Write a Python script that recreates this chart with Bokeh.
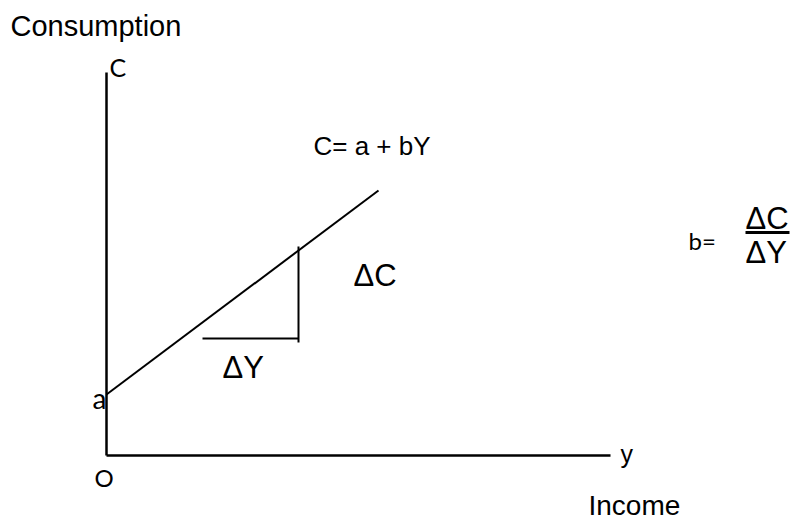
from bokeh.plotting import figure
from bokeh.models import Range1d
from bokeh.core.properties import value
from bokeh.embed import file_html
from bokeh.resources import INLINE

# ---- data (diagram units, origin O at the axes corner) ----
y_axis_x = [0, 0]
y_axis_y = [0, 383]
x_axis_x = [0, 504]
x_axis_y = [0, 0]

# consumption function C = a + bY
cons_x = [0, 272]
cons_y = [61, 265]

# slope triangle
run_x = [96, 192]
run_y = [117, 117]
rise_x = [192, 192]
rise_y = [113, 209]

# fraction bar for b = ΔC / ΔY
frac_x = [639, 683]
frac_y = [223, 223]

# Arial-like labels
arial_text = ["Consumption", "C= a + bY", "ΔC", "ΔY", "ΔC", "ΔY", "y", "Income"]
arial_x = [-96, 207, 247, 116, 639, 639, 514, 482]
arial_y = [430, 310, 180, 88, 237, 203, 2, -50]
arial_size = ["29px", "26px", "31px", "31px", "31px", "31px", "25px", "28px"]

# Calibri-like labels
cal_text = ["C", "a", "O", "b="]
cal_x = [3, -14, -12, 582]
cal_y = [389, 58, -22, 215]
cal_size = ["25px", "28px", "24px", "24px"]

W, H = 792, 520
p = figure(width=W, height=H, output_backend="svg", toolbar_location=None,
           x_range=Range1d(-106, 686), y_range=Range1d(-65, 455),
           min_border=0, outline_line_color=None)
p.axis.visible = False
p.grid.visible = False

p.line(y_axis_x, y_axis_y, line_color="black", line_width=2.5)
p.line(x_axis_x, x_axis_y, line_color="black", line_width=2.5)
p.line(cons_x, cons_y, line_color="black", line_width=2)
p.line(run_x, run_y, line_color="black", line_width=2)
p.line(rise_x, rise_y, line_color="black", line_width=2)
p.line(frac_x, frac_y, line_color="black", line_width=3)

for t, x, y, s in zip(arial_text, arial_x, arial_y, arial_size):
    p.text(x=[x], y=[y], text=[t], text_font=value("Liberation Sans"),
           text_font_size=s, text_color="black",
           text_align="left", text_baseline="alphabetic")

for t, x, y, s in zip(cal_text, cal_x, cal_y, cal_size):
    p.text(x=[x], y=[y], text=[t], text_font=value("Lato"),
           text_font_size=s, text_color="black",
           text_align="left", text_baseline="alphabetic")

open("out.html", "w").write(file_html(p, INLINE))
